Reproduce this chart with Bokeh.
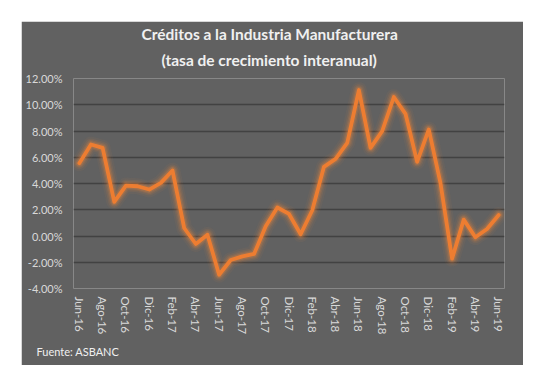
from bokeh.plotting import figure
from bokeh.models import ColumnDataSource, FixedTicker, PrintfTickFormatter, Title, Range1d
from bokeh.embed import file_html
from bokeh.resources import INLINE

# ---- data ----
months = ["Jun-16", "Jul-16", "Ago-16", "Set-16", "Oct-16", "Nov-16", "Dic-16",
          "Ene-17", "Feb-17", "Mar-17", "Abr-17", "May-17", "Jun-17", "Jul-17",
          "Ago-17", "Set-17", "Oct-17", "Nov-17", "Dic-17", "Ene-18", "Feb-18",
          "Mar-18", "Abr-18", "May-18", "Jun-18", "Jul-18", "Ago-18", "Set-18",
          "Oct-18", "Nov-18", "Dic-18", "Ene-19", "Feb-19", "Mar-19", "Abr-19",
          "May-19", "Jun-19"]
growth = [5.55, 6.97, 6.72, 2.60, 3.84, 3.79, 3.54,
          4.05, 4.99, 0.61, -0.61, 0.10, -2.95, -1.83,
          -1.55, -1.37, 0.74, 2.17, 1.68, 0.13, 1.96,
          5.27, 5.88, 7.10, 11.12, 6.72, 7.99, 10.59,
          9.31, 5.65, 8.12, 4.05, -1.73, 1.25, -0.10,
          0.53, 1.60]
y_ticks = [-4, -2, 0, 2, 4, 6, 8, 10, 12]
title_lines = ["Créditos a la Industria Manufacturera", "(tasa de crecimiento interanual)"]
source_text = "Fuente: ASBANC"

idx = list(range(len(months)))
src = ColumnDataSource(dict(x=idx, y=growth))

BG = "#616161"
FONT = "Lato"

p = figure(width=502, height=344, output_backend="svg", toolbar_location=None,
           x_range=Range1d(-0.5, len(months) - 0.5), y_range=Range1d(-4, 12),
           background_fill_color=BG, border_fill_color=BG,
           min_border_left=52, min_border_right=19, min_border_top=57, min_border_bottom=77)
p.margin = (21, 0, 0, 21)
p.outline_line_color = None

# glow + line
for w, a in [(16, 0.05), (12, 0.09), (9, 0.14), (6.5, 0.22)]:
    p.line("x", "y", source=src, line_width=w, line_color="#f08a3c", line_alpha=a,
           line_join="round", line_cap="round")
p.line("x", "y", source=src, line_width=3.8, line_color="#ED7D31", line_join="round", line_cap="round")

# axes
p.xaxis.ticker = FixedTicker(ticks=idx[::2])
p.xaxis.major_label_overrides = {i: months[i] for i in idx[::2]}
p.xaxis.major_label_orientation = "vertical"
p.yaxis.ticker = FixedTicker(ticks=y_ticks)
p.yaxis.formatter = PrintfTickFormatter(format="%.2f%%")
for ax in (p.xaxis, p.yaxis):
    ax.axis_line_color = None
    ax.major_tick_line_color = None
    ax.minor_tick_line_color = None
    ax.major_tick_out = 0
    ax.major_tick_in = 0
    ax.minor_tick_out = 0
    ax.minor_tick_in = 0
    ax.major_label_text_color = "#d9d9d9"
    ax.major_label_text_font = FONT
p.xaxis.major_label_text_font_size = "11.5px"
p.yaxis.major_label_text_font_size = "11px"
p.xaxis.major_label_standoff = 8
p.yaxis.major_label_standoff = 11

p.xgrid.grid_line_color = None
p.ygrid.ticker = FixedTicker(ticks=y_ticks)
p.ygrid.grid_line_color = "#424242"
p.ygrid.grid_line_width = 1.5

# titles (added nearest-first)
for t, st, off in [(title_lines[1], 19, 88), (title_lines[0], -6, 68)]:
    p.add_layout(Title(text=t, align="left", offset=off, standoff=st,
                       text_font=FONT, text_font_style="bold", text_font_size="15.5px",
                       text_color="#f0f0f0"), "above")
# source note
p.add_layout(Title(text=source_text, align="left", offset=-37, standoff=10,
                   text_font=FONT, text_font_style="normal", text_font_size="11px",
                   text_color="#f0f0f0"), "below")

open("out.html", "w").write(file_html(p, INLINE))
